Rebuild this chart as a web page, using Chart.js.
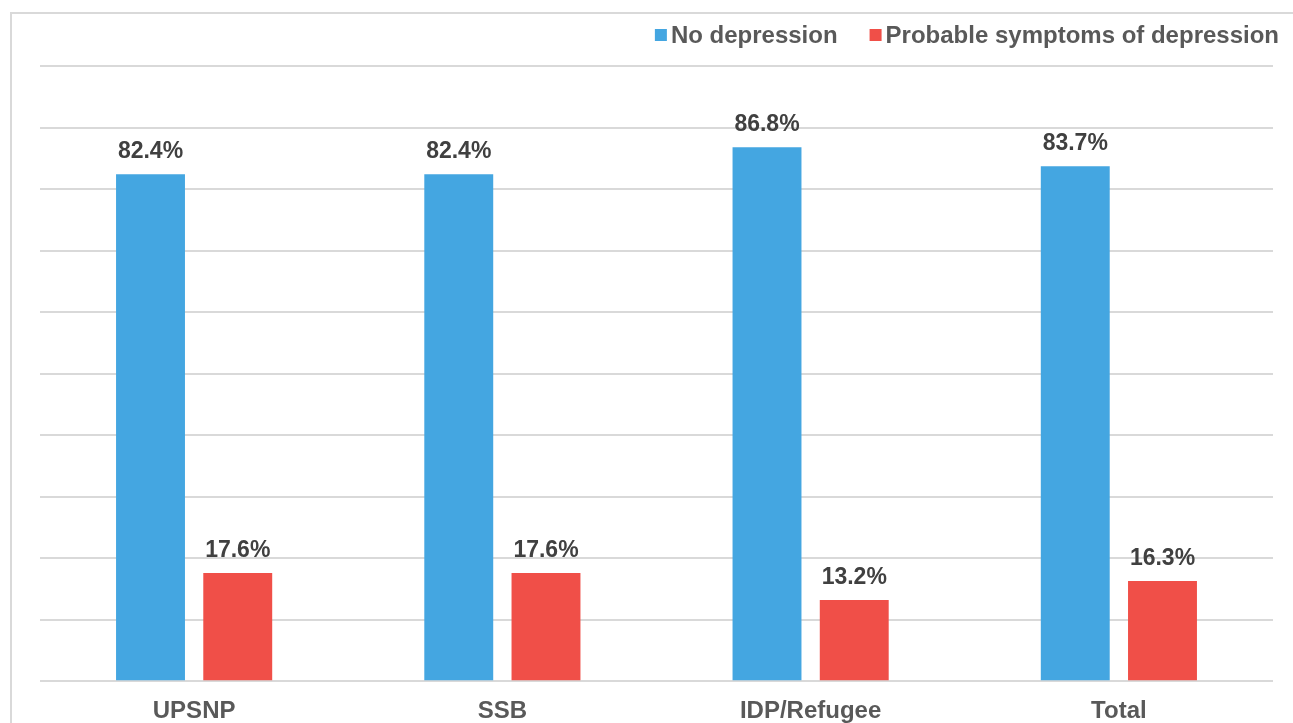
<!DOCTYPE html>
<html>
<head>
<meta charset="utf-8">
<script src="https://cdn.jsdelivr.net/npm/chart.js@4/dist/chart.umd.min.js"></script>
<style>
  html, body { margin: 0; padding: 0; background: #fff; overflow: hidden; width: 1293px; height: 723px; }
  #frame { position: absolute; left: 10px; top: 12px; width: 1400px; height: 800px; border: 2px solid #d9d9d9; box-sizing: border-box; }
  #wrap { position: absolute; left: 0; top: 0; width: 1293px; height: 723px; }
</style>
</head>
<body>
<div id="frame"></div>
<div id="wrap"><canvas id="c" width="1293" height="723"></canvas></div>
<script>
const categories = ["UPSNP", "SSB", "IDP/Refugee", "Total"];
const seriesNames = ["No depression", "Probable symptoms of depression"];
const noDepression = [82.4, 82.4, 86.8, 83.7];
const probableDepression = [17.6, 17.6, 13.2, 16.3];
const seriesColors = ["#44A6E1", "#F04F48"];

const FONT = "'Liberation Sans', Arial, sans-serif";

const valueLabels = {
  id: 'valueLabels',
  afterDatasetsDraw(chart) {
    const ctx = chart.ctx;
    ctx.save();
    ctx.font = "bold 23px " + FONT;
    ctx.fillStyle = "#404040";
    ctx.textAlign = "center";
    ctx.textBaseline = "alphabetic";
    chart.data.datasets.forEach((ds, i) => {
      const meta = chart.getDatasetMeta(i);
      meta.data.forEach((bar, j) => {
        ctx.fillText(ds.data[j].toFixed(1) + "%", bar.x, bar.y - 16);
      });
    });
    ctx.restore();
  }
};

const customLegend = {
  id: 'customLegend',
  afterDraw(chart) {
    const ctx = chart.ctx;
    ctx.save();
    ctx.font = "bold 24px " + FONT;
    ctx.textBaseline = "middle";
    ctx.textAlign = "left";
    const box = 12, gapBox = 4, gapItem = 32, cy = 35;
    const widths = chart.data.datasets.map(d => box + gapBox + ctx.measureText(d.label).width);
    let total = widths.reduce((a, b) => a + b, 0) + gapItem * (widths.length - 1);
    let x = 1279 - total;
    chart.data.datasets.forEach((d, i) => {
      ctx.fillStyle = d.backgroundColor;
      ctx.fillRect(x, cy - box / 2, box, box);
      ctx.fillStyle = "#595959";
      ctx.fillText(d.label, x + box + gapBox, cy + 1);
      x += widths[i] + gapItem;
    });
    ctx.restore();
  }
};

new Chart(document.getElementById('c'), {
  type: 'bar',
  data: {
    labels: categories,
    datasets: [
      { label: seriesNames[0], data: noDepression, backgroundColor: seriesColors[0] },
      { label: seriesNames[1], data: probableDepression, backgroundColor: seriesColors[1] }
    ]
  },
  options: {
    responsive: false,
    animation: false,
    devicePixelRatio: 1,
    layout: { padding: { left: 40, right: 20, top: 66, bottom: -19 } },
    datasets: { bar: { categoryPercentage: 0.566, barPercentage: 0.79 } },
    plugins: { legend: { display: false }, tooltip: { enabled: false } },
    scales: {
      x: {
        grid: { display: false, drawTicks: false },
        border: { display: false },
        ticks: { color: "#595959", font: { family: FONT, size: 24, weight: 'bold' }, padding: 16 }
      },
      y: {
        min: 0, max: 100,
        ticks: { display: false, stepSize: 10 },
        grid: { color: "#d9d9d9", lineWidth: 2, drawTicks: false },
        border: { display: false }
      }
    }
  },
  plugins: [valueLabels, customLegend]
});
</script>
</body>
</html>
